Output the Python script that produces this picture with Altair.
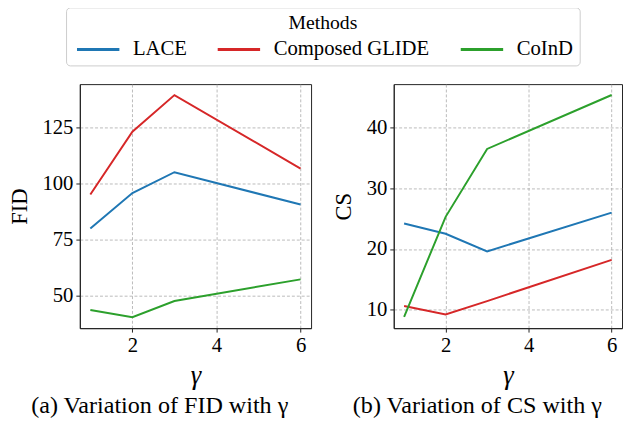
import altair as alt
import pandas as pd

gamma = [1, 2, 3, 6]
methods = ["LACE", "Composed GLIDE", "CoInD"]
colors = ["#1f77b4", "#d62728", "#2ca02c"]

fid_lace = [80.1, 95.8, 105.1, 90.7]
fid_glide = [95.2, 123.1, 139.4, 106.7]
fid_coind = [43.8, 40.6, 47.8, 57.4]

cs_lace = [24.2, 22.5, 19.6, 26.0]
cs_glide = [10.6, 9.2, 11.4, 18.2]
cs_coind = [8.8, 25.3, 36.5, 45.4]

x_ticks = [2, 4, 6]
fid_ticks = [50, 75, 100, 125]
cs_ticks = [10, 20, 30, 40]

FONT = "Liberation Serif"


def long(series):
    rows = []
    for m, vals in zip(methods, series):
        for g, v in zip(gamma, vals):
            rows.append({"gamma": g, "value": v, "method": m})
    return pd.DataFrame(rows)


fid_df = long([fid_lace, fid_glide, fid_coind])
cs_df = long([cs_lace, cs_glide, cs_coind])

color = alt.Color(
    "method:N",
    scale=alt.Scale(domain=methods, range=colors),
    legend=alt.Legend(
        title="Methods",
        orient="none",
        legendX=-14,
        legendY=-78,
        direction="horizontal",
        symbolType="M-1,0L7,0",
        symbolSize=116,
        symbolStrokeWidth=3,
        labelOffset=41,
        columnPadding=25,
        titleAnchor="middle",
    ),
)

x = alt.X(
    "gamma:Q",
    scale=alt.Scale(domain=[0.75, 6.25], nice=False, zero=False),
    axis=alt.Axis(values=x_ticks, title="γ", titleFontStyle="italic",
                  titleFontSize=27, titlePadding=7, format="d"),
)


def panel(df, ytitle, ydom, yticks, caption, w):
    return (
        alt.Chart(df)
        .mark_line(strokeWidth=2, clip=True)
        .encode(
            x=x,
            y=alt.Y(
                "value:Q",
                scale=alt.Scale(domain=ydom, nice=False, zero=False),
                axis=alt.Axis(values=yticks, title=ytitle, format="d"),
            ),
            color=color,
        )
        .properties(
            width=w,
            height=248,
            title=alt.TitleParams(
                caption,
                orient="bottom",
                anchor="middle",
                frame="bounds",
                fontSize=24.5,
                font=FONT,
                fontWeight="normal",
                offset=6,
                color="black",
            ),
        )
    )


left = panel(fid_df, "FID", [35.7, 144.3], fid_ticks, "(a) Variation of FID with γ", 235)
right = panel(cs_df, "CS", [6.93, 47.2], cs_ticks, "(b) Variation of CS with γ", 232)

chart = (
    alt.hconcat(left, right, spacing=20)
    .resolve_scale(x="independent", y="independent", color="shared")
    .properties(padding={"left": 0, "top": -5, "right": 0, "bottom": 0})
    .configure(font=FONT)
    .configure_axis(
        labelFont=FONT,
        titleFont=FONT,
        labelFontSize=21,
        titleFontSize=23,
        titleFontWeight="normal",
        labelColor="black",
        titleColor="black",
        domainColor="#222222",
        tickColor="#222222",
        tickSize=4,
        labelPadding=3,
        grid=True,
        gridColor="#aaaaaa",
        gridDash=[3, 2],
        gridWidth=0.8,
    )
    .configure_axisY(titlePadding=11)
    .configure_view(stroke="#222222", strokeWidth=1)
    .configure_legend(
        labelFont=FONT,
        titleFont=FONT,
        labelFontSize=21,
        titleFontSize=20,
        titleFontWeight="normal",
        labelColor="black",
        titleColor="black",
        strokeColor="#cccccc",
        cornerRadius=4,
        padding=6,
        titlePadding=6,
        fillColor="white",
    )
)

chart.save("out.html", embed_options={"renderer": "svg", "actions": False})
